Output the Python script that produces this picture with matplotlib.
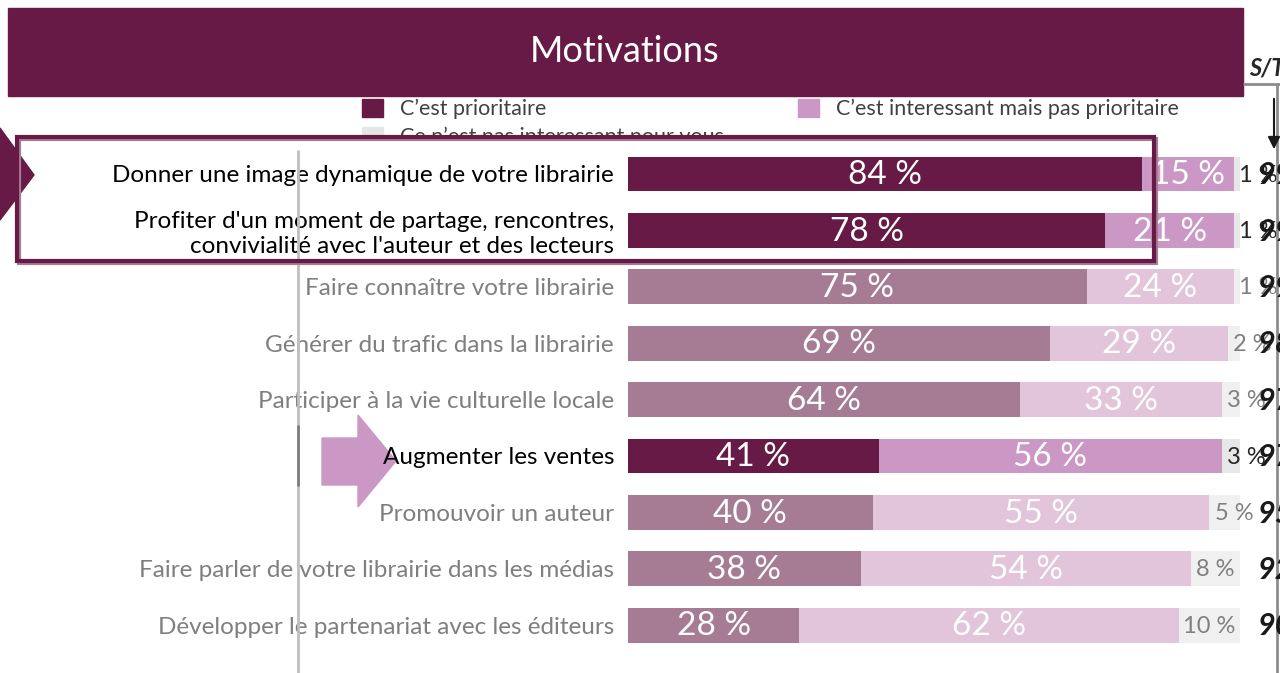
import matplotlib
matplotlib.use("Agg")
import matplotlib.pyplot as plt
from matplotlib.patches import Rectangle, Polygon
from matplotlib.transforms import blended_transform_factory

plt.rcParams['font.family'] = ['Lato', 'DejaVu Sans']

# ---- data ----
categories = [
    "Donner une image dynamique de votre librairie",
    "Profiter d'un moment de partage, rencontres,\nconvivialité avec l'auteur et des lecteurs",
    "Faire connaître votre librairie",
    "Générer du trafic dans la librairie",
    "Participer à la vie culturelle locale",
    "Augmenter les ventes",
    "Promouvoir un auteur",
    "Faire parler de votre librairie dans les médias",
    "Développer le partenariat avec les éditeurs",
]
prioritaire = [84, 78, 75, 69, 64, 41, 40, 38, 28]
interessant = [15, 21, 24, 29, 33, 56, 55, 54, 62]
pas_interessant = [1, 1, 1, 2, 3, 3, 5, 8, 10]
highlighted = [True, True, False, False, False, True, False, False, False]
legend_labels = ["C\u2019est prioritaire",
                 "C\u2019est interessant mais pas prioritaire",
                 "Ce n\u2019est pas interessant pour vous"]
title = "Motivations"
st_label = "S/T"

# ---- colours ----
DARK = '#661A45'
HI_MID = '#CB97C5'
HI_LIGHT = '#E6E7E6'
LO_DARK = '#A67B94'
LO_MID = '#E2C4DB'
LO_LIGHT = '#F0F0F0'

W, H = 1280, 673
fig = plt.figure(figsize=(W / 100, H / 100), dpi=100)


def frac(x0, y0, w, h):
    return [x0 / W, 1 - (y0 + h) / H, w / W, h / H]


# background layer (pixel coords)
bg = fig.add_axes([0, 0, 1, 1], zorder=0)
bg.set_xlim(0, W); bg.set_ylim(H, 0); bg.axis('off')

# bar axes
top_px, bot_px = 145.8, 653.4
ax = fig.add_axes(frac(628, top_px, 612, bot_px - top_px), zorder=1)
ax.patch.set_alpha(0)

# foreground layer
fg = fig.add_axes([0, 0, 1, 1], zorder=2)
fg.set_xlim(0, W); fg.set_ylim(H, 0); fg.axis('off')
fg.patch.set_alpha(0)

# ---- legend (manual, in background) ----
leg_items = [(362, 108, DARK, legend_labels[0]),
             (798, 108, HI_MID, legend_labels[1]),
             (362, 136, '#E6E6E6', legend_labels[2])]
for x, y, c, lab in leg_items:
    bg.add_patch(Rectangle((x, y - 9), 21, 18, color=c, zorder=2))
    bg.text(x + 38, y + 1, lab, fontsize=15.5, color='#404040', va='center', ha='left', zorder=2)

# white box hiding the lower part of the legend
bg.add_patch(Rectangle((18, 137), 1137, 124, facecolor='white', edgecolor='none', zorder=6))

# left maroon arrow
bg.add_patch(Polygon([(0, 128), (34, 175), (0, 220)], closed=True, color=DARK, zorder=7))
# pink arrow pointing to "Augmenter les ventes"
bg.add_patch(Polygon([(322, 438), (358, 438), (358, 415), (396, 461),
                      (358, 507), (358, 485), (322, 485)], closed=True,
                     color=HI_MID, zorder=7))

# ---- bars ----
n = len(categories)
ys = list(range(n))
c1 = [DARK if h else LO_DARK for h in highlighted]
c2 = [HI_MID if h else LO_MID for h in highlighted]
c3 = [HI_LIGHT if h else LO_LIGHT for h in highlighted]
left2 = prioritaire
left3 = [a + b for a, b in zip(prioritaire, interessant)]
bh = 0.62
ax.barh(ys, prioritaire, height=bh, color=c1, linewidth=0)
ax.barh(ys, interessant, left=left2, height=bh, color=c2, linewidth=0)
ax.barh(ys, pas_interessant, left=left3, height=bh, color=c3, linewidth=0)
ax.set_xlim(0, 100)
ax.set_ylim(n - 0.5, -0.5)
ax.set_xticks([])
for s in ax.spines.values():
    s.set_visible(False)
ax.set_yticks(ys)
ax.set_yticklabels(categories, fontsize=17.5)
ax.tick_params(axis='y', length=0, pad=10)
for lab, h in zip(ax.get_yticklabels(), highlighted):
    lab.set_color('#000000' if h else '#7F7F7F')

for i in ys:
    ax.text(prioritaire[i] / 2, i + 0.02, f"{prioritaire[i]} %", ha='center', va='center',
            color='white', fontsize=24)
    ax.text(left2[i] + interessant[i] / 2, i + 0.02, f"{interessant[i]} %", ha='center',
            va='center', color='white', fontsize=24)
    tc = '#262626' if highlighted[i] else '#808080'
    if pas_interessant[i] <= 5:
        ax.text(left3[i] + 0.9, i + 0.02, f"{pas_interessant[i]} %", ha='left', va='center',
                color=tc, fontsize=17, clip_on=False)
    else:
        ax.text(left3[i] + pas_interessant[i] / 2, i + 0.02, f"{pas_interessant[i]} %",
                ha='center', va='center', color=tc, fontsize=17, clip_on=False)

# S/T column values (clipped at figure edge)
tr = blended_transform_factory(fg.transData, ax.transData)
for i in ys:
    fg.text(1258, i + 0.02, f"{prioritaire[i] + interessant[i]}", transform=tr,
            ha='left', va='center', fontsize=22, fontweight='bold', fontstyle='italic',
            color='#1A1A1A', zorder=5)

# ---- foreground decorations ----
# banner
fg.add_patch(Rectangle((8, 8), 1235, 88, color=DARK, zorder=1))
fg.text(625, 51, title, color='white', fontsize=26, ha='center', va='center', zorder=2)
# S/T header
fg.text(1249, 68, st_label, fontsize=17, fontweight='bold', fontstyle='italic',
        color='#262626', ha='left', va='center')
fg.plot([1243, 1280], [84, 84], color='#8C8C8C', lw=2, solid_capstyle='butt')
fg.plot([1277, 1277], [84, 673], color='#8C8C8C', lw=2, solid_capstyle='butt')
fg.annotate('', xy=(1274, 152), xytext=(1274, 96),
            arrowprops=dict(arrowstyle='-|>', color='#1A1A1A', lw=1.5, mutation_scale=18))
# left grey axis line
fg.plot([298, 298], [150, 673], color='#BFBFBF', lw=2, solid_capstyle='butt', zorder=1)
fg.plot([298, 298], [425, 486], color='#7F7F7F', lw=2, solid_capstyle='butt', zorder=1)
# highlight box border with shadow
fg.add_patch(Rectangle((19, 139), 1137, 124, fill=False, edgecolor=LO_DARK, lw=3, zorder=3))
fg.add_patch(Rectangle((17, 137), 1137, 124, fill=False, edgecolor=DARK, lw=3, zorder=4))

fig.savefig('out.png', dpi=100)
